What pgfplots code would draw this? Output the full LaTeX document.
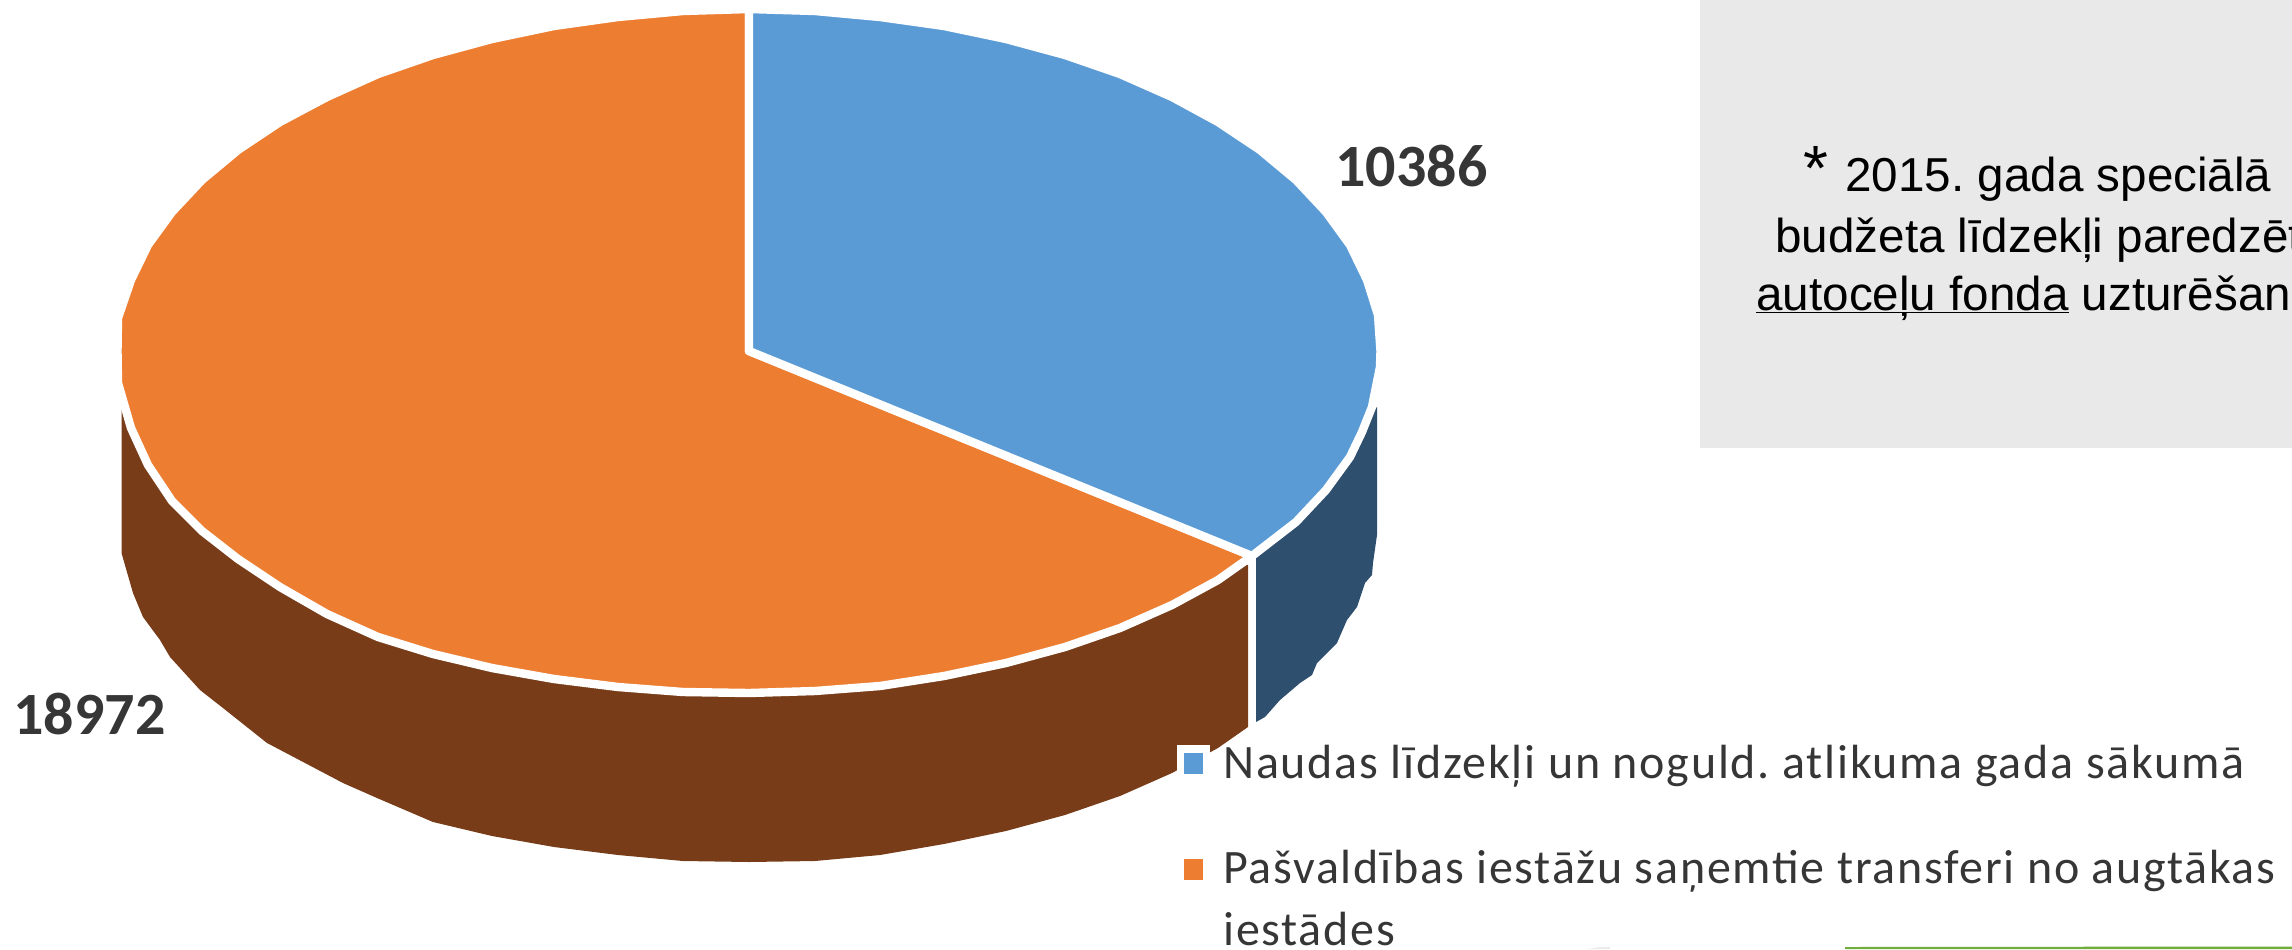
\documentclass[border=0pt]{standalone}
\usepackage{fontspec}
\usepackage{pgfplots}
\pgfplotsset{compat=1.18}
\newfontfamily\carlito{Carlito}
\newfontfamily\carlitoleg[LetterSpace=3.6]{Carlito}
\newfontfamily\arial{Liberation Sans}
\definecolor{cblue}{HTML}{5B9BD5}
\definecolor{corange}{HTML}{ED7D31}
\definecolor{cbrown}{HTML}{783C18}
\definecolor{cnavy}{HTML}{2F4F6E}
\definecolor{cbox}{HTML}{E9E9E9}
\definecolor{ctxt}{HTML}{363636}
\definecolor{cgreen}{HTML}{70AD3C}
\begin{document}
\frenchspacing
\begin{tikzpicture}
\useasboundingbox (0,0) rectangle (1146pt,474.5pt);
\begin{axis}[
  at={(0,0)}, anchor=south west,
  scale only axis, width=1146pt, height=474.5pt,
  xmin=0, xmax=2292, ymin=0, ymax=949, y dir=reverse,
  hide axis, no markers, clip=true]
% grey note box
\addplot[fill=cbox, draw=none] coordinates {(1700,0) (2292,0) (2292,448) (1700,448)} --cycle;
% green strip at the bottom edge
\addplot[fill=cgreen, draw=none] coordinates {(1845,947) (2292,946.5) (2292,949) (1845,949)} --cycle;
\addplot[fill=black!8, draw=none] coordinates {(1587,949) (1600,947) (1610,947) (1610,949)} --cycle;
% side wall, 18972
\addplot[fill=cbrown, draw=none] coordinates {
 (121.5,407) (121.5,553) (133,593) (143,617) (160,640) (170,657) (200,690) (223,708)
 (267,743) (343,783) (377,798) (433,822) (492,836) (554,847) (618,855) (683,861)
 (749,862) (815,861) (880,855) (944,844) (1006,831) (1065,815) (1120,796) (1172,773)
 (1218,748) (1248,727) (1248,565) (700,500)} --cycle;
% side wall, 10386
\addplot[fill=cnavy, draw=none] coordinates {
 (1256,552) (1256,722) (1265,717) (1280,700) (1300,683) (1312,675) (1317,663)
 (1337,643) (1347,620) (1357,607) (1365,583) (1372,575) (1373,563) (1377,535) (1377,407) (1300,480)} --cycle;
% top, 18972
\addplot[fill=corange, draw=white, line width=4.2pt, line join=round] coordinates {
 (749,351) (1252,556) (1218,580) (1172,605) (1120,628) (1065,647) (1006,663) (944,676)
 (880,686) (815,691) (749,693) (683,692) (618,687) (554,679) (492,668) (433,654)
 (378,637) (327,614) (280,587) (238,559) (202,531) (172,501) (148,465) (131,428)
 (118,383) (117.5,351) (118,318) (131,280) (148,245) (172,212) (202,180) (238,150)
 (280,122) (327,97) (378,74) (433,55) (492,39) (554,26) (618,17) (683,11) (749,9)} --cycle;
% top, 10386
\addplot[fill=cblue, draw=white, line width=4.2pt, line join=round] coordinates {
 (749,351) (749,9) (815,11) (880,17) (944,26) (1006,39) (1065,55) (1120,74) (1172,97)
 (1218,122) (1260,150) (1296,180) (1326,212) (1350,245) (1367,280) (1378,315) (1380.5,351)
 (1380,367) (1372,407) (1362,432) (1350,457) (1326,490) (1296,522) (1252,556)} --cycle;
% legend keys
\addplot[fill=white, draw=none] coordinates {(1177,745) (1210,745) (1210,783) (1177,783)} --cycle;
\addplot[fill=cblue, draw=none] coordinates {(1184,753) (1203,753) (1203,774) (1184,774)} --cycle;
\addplot[fill=corange, draw=none] coordinates {(1184,859) (1203,859) (1203,880) (1184,880)} --cycle;
% data labels
\node[anchor=base west, inner sep=0pt, text=ctxt, font=\carlito\bfseries\fontsize{30}{30}\selectfont] at (axis cs:1335,186) {10386};
\node[anchor=base west, inner sep=0pt, text=ctxt, font=\carlito\bfseries\fontsize{30}{30}\selectfont] at (axis cs:13,734) {18972};
% legend text
\node[anchor=base west, inner sep=0pt, text=ctxt, font=\carlitoleg\fontsize{24}{24}\selectfont] at (axis cs:1223,778) {Naudas līdzekļi un noguld. atlikuma gada sākumā};
\node[anchor=base west, inner sep=0pt, text=ctxt, font=\carlitoleg\fontsize{24}{24}\selectfont] at (axis cs:1223,883) {Pašvaldības iestāžu saņemtie transferi no augtākas};
\node[anchor=base west, inner sep=0pt, text=ctxt, font=\carlitoleg\fontsize{24}{24}\selectfont] at (axis cs:1223,945) {iestādes};
% note
\node[anchor=base west, inner sep=0pt, font=\arial\fontsize{32}{32}\selectfont] at (axis cs:1803,190) {*};
\node[anchor=base west, inner sep=0pt, font=\arial\fontsize{23.8}{24}\selectfont] at (axis cs:1845,191) {2015. gada speciālā};
\node[anchor=base west, inner sep=0pt, font=\arial\fontsize{23.8}{24}\selectfont] at (axis cs:1775,252) {budžeta līdzekļi paredzēti};
\node[anchor=base west, inner sep=0pt, font=\arial\fontsize{23.8}{24}\selectfont] at (axis cs:1756,310) {\underline{\smash{autoceļu fonda}} uzturēšanai};
\end{axis}
\end{tikzpicture}
\end{document}
